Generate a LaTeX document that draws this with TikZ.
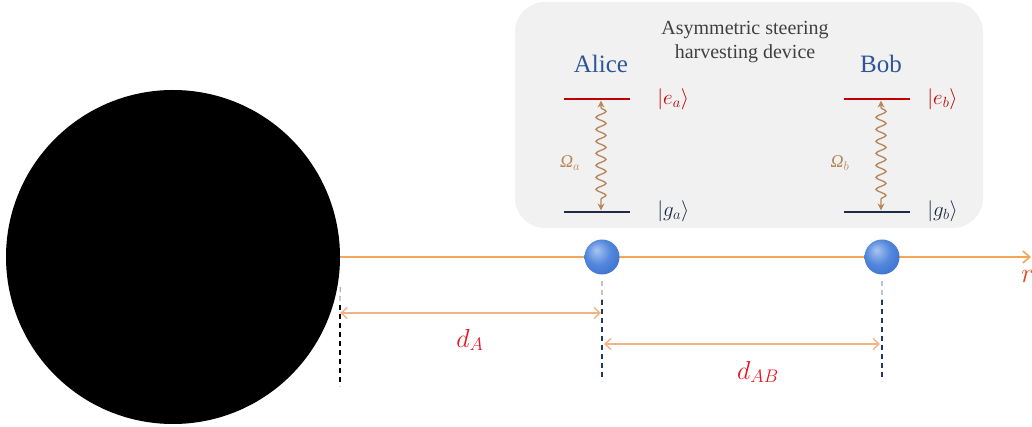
\RequirePackage{fix-cm}
\documentclass[tikz,border=0pt]{standalone}
\usepackage{fontspec}
\setmainfont{Liberation Serif}
\usetikzlibrary{arrows.meta, positioning, decorations.pathmorphing}
\definecolor{axisOrange}{HTML}{F2A65A}
\definecolor{dimOrange}{HTML}{F4B183}
\definecolor{waveBrown}{HTML}{B8865B}
\definecolor{levelRed}{HTML}{C00000}
\definecolor{levelNavy}{HTML}{1F2A44}
\definecolor{nameBlue}{HTML}{2E5597}
\definecolor{labelRed}{HTML}{E8141E}
\definecolor{rOrange}{HTML}{E8491D}
\definecolor{boxGray}{HTML}{F1F1F1}
\definecolor{guideNavy}{HTML}{1F3864}
\definecolor{ballLight}{HTML}{A9C4F0}
\definecolor{ballMid}{HTML}{5287DC}
\definecolor{ballBlue}{HTML}{3066C8}
\definecolor{ballDark}{HTML}{2452A8}
\pgfdeclareradialshading{atomShade}{\pgfpoint{-8bp}{10bp}}{%
  color(0bp)=(ballLight); color(18bp)=(ballMid); color(42bp)=(ballBlue);
  color(62bp)=(ballDark)}

\begin{document}
\begin{tikzpicture}[x=1pt, y=-1pt,
    level/.style={rectangle, fill=#1, minimum width=66pt, minimum height=2.8pt,
                  inner sep=0pt},
    ket/.style={inner sep=0pt, text=#1, font=\fontsize{21}{24}\selectfont},
    atom/.style={circle, minimum size=35pt, inner sep=0pt, shading=atomShade},
    axis/.style={-{Straight Barb[length=7pt, width=12pt]}, axisOrange, line width=1.6pt},
    dim/.style={{Straight Barb[length=6pt, width=11pt]}-{Straight Barb[length=6pt, width=11pt]},
                dimOrange, line width=1.4pt},
    guide/.style={dash pattern=on 5pt off 4pt, line width=1.3pt, #1},
    wave/.style={waveBrown, line width=1.3pt,
                 {Stealth[length=7pt, width=7pt]}-{Stealth[length=7pt, width=7pt]},
                 decorate, decoration={snake, amplitude=5pt, segment length=12pt,
                 pre length=7pt, post length=7pt}},
    dlabel/.style={text=labelRed, font=\fontsize{26}{30}\selectfont}
  ]
  \useasboundingbox (0,0) rectangle (1032,427);

  % the device box
  \node[fill=boxGray, rounded corners=30pt, minimum width=468pt, minimum height=226pt,
        inner sep=0pt] (device) at (749,115) {};
  \node[align=center, text=black!75, font=\fontsize{20}{24}\selectfont] (title) at (745,42)
    {Asymmetric steering\\harvesting device};

  % black hole and radial axis
  \node[circle, fill=black, minimum size=334pt, inner sep=0pt] (bh) at (173,257) {};
  \coordinate (rend) at (1031,257);
  \draw[axis] (bh.east) -- (rend);
  \node[text=rOrange, font=\fontsize{28}{32}\selectfont, anchor=west, inner sep=0pt] (r) at (1021,276) {$r$};

  % the two detectors
  \foreach \n/\x/\who/\gap/\om in {a/602/Alice/27/32, b/882/Bob/17/42} {
    \node[font=\fontsize{25}{30}\selectfont, text=nameBlue] (name\n) at (\x-1,64) {\who};
    \node[level=levelRed] (e\n) at (\x-5,99) {};
    \node[level=levelNavy] (g\n) at (\x-5,212) {};
    \node[ket=levelRed, right=\gap pt of e\n] (ke\n) {$|e_\n\rangle$};
    \node[ket=levelNavy, right=\gap pt of g\n, yshift=1pt] (kg\n) {$|g_\n\rangle$};
    \draw[wave] ([xshift=4pt]e\n.south) -- ([xshift=4pt]g\n.north);
    \node[text=waveBrown, font=\fontsize{18}{21}\selectfont] (om\n) at (\x-\om,163)
      {\textit{Ω}$_\n$};
    \node[atom] (atom\n) at (\x,257) {};
    \coordinate (mid\n) at (\x,300);
    \coordinate (foot\n) at (\x,381);
    \draw[guide=guideNavy!30] ([yshift=-6pt]atom\n.south) -- (mid\n);
    \draw[guide=guideNavy] (mid\n) -- (foot\n);
  }

  % guide at the horizon
  \coordinate (midh) at (340,305);
  \coordinate (footh) at (340,386);
  \draw[guide=black!30] ([yshift=-30pt]bh.east) -- (midh);
  \draw[guide=black] (midh) -- (footh);

  % distances
  \coordinate (yA) at (0,313);
  \coordinate (yAB) at (0,344);
  \draw[dim, shorten >=1pt] (bh.east |- yA) -- (atoma |- yA);
  \draw[dim, shorten <=2pt, shorten >=2pt] (atoma |- yAB) -- (atomb |- yAB);
  \node[dlabel] (dA) at (470,340) {$d_A$};
  \node[dlabel] (dAB) at (758,372) {$d_{AB}$};
\end{tikzpicture}
\end{document}
